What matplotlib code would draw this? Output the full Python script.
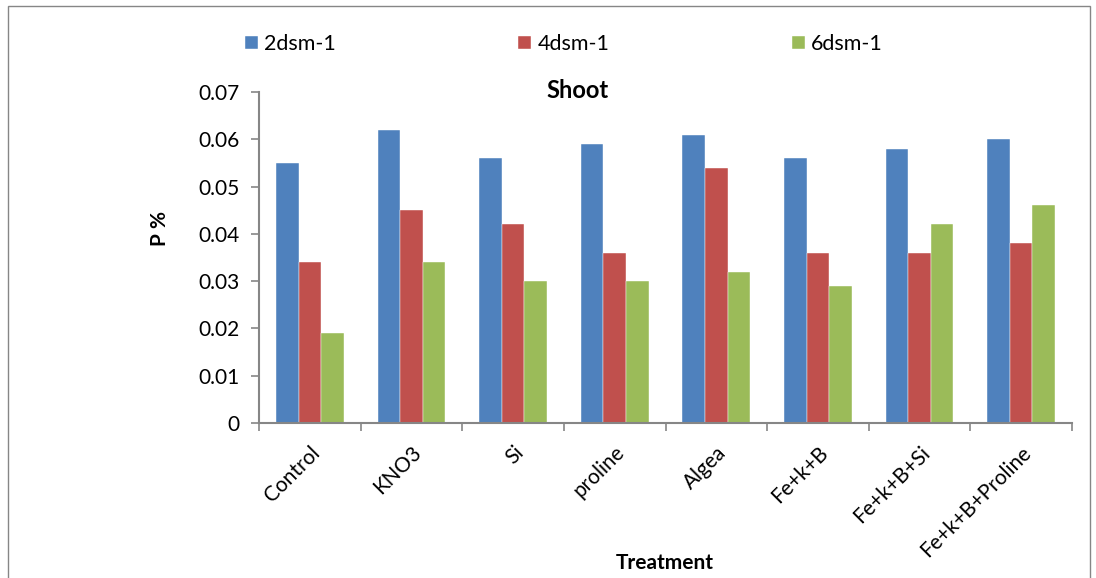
import matplotlib.pyplot as plt
import matplotlib.patches as mpatches
import numpy as np

plt.rcParams['font.family'] = ['Lato', 'DejaVu Sans']

treatments = ['Control', 'KNO3', 'Si', 'proline', 'Algea', 'Fe+k+B', 'Fe+k+B+Si', 'Fe+k+B+Proline']
dsm2 = [0.055, 0.062, 0.056, 0.059, 0.061, 0.056, 0.058, 0.060]
dsm4 = [0.034, 0.045, 0.042, 0.036, 0.054, 0.036, 0.036, 0.038]
dsm6 = [0.019, 0.034, 0.030, 0.030, 0.032, 0.029, 0.042, 0.046]
series_names = ['2dsm-1', '4dsm-1', '6dsm-1']
colors = ['#4F81BD', '#C0504D', '#9BBB59']

fig = plt.figure(figsize=(10.96, 5.78), dpi=100)
ax = fig.add_axes([259/1096, 1 - 423/578, (1072 - 259)/1096, (423 - 92)/578])

# outer chart border
fig.patches.append(mpatches.Rectangle((8/1096, -0.05), (1090 - 8)/1096, (1.05 - 6/578),
                                      transform=fig.transFigure, fill=False,
                                      edgecolor='#868686', lw=1))

x = np.arange(len(treatments)) + 0.5
w = 0.222
handles = []
for i, (vals, c) in enumerate(zip([dsm2, dsm4, dsm6], colors)):
    b = ax.bar(x + (i - 1) * w, vals, width=w, color=c, edgecolor='white', linewidth=0.3)
    handles.append(b)

ax.set_xlim(0, len(treatments))
ax.set_ylim(0, 0.07)
ax.set_yticks(np.arange(0, 0.071, 0.01))
ax.set_yticklabels(['0'] + [f'{v:.2f}' for v in np.arange(0.01, 0.071, 0.01)])
ax.set_xticks(x)
ax.set_xticklabels(treatments, rotation=45, ha='right', va='top', rotation_mode='anchor')
ax.set_xticks(np.arange(len(treatments) + 1), minor=True)
ax.tick_params(axis='x', which='major', length=0, pad=14, labelsize=15)
ax.tick_params(axis='x', which='minor', length=6, color='#868686', width=1.2)
ax.tick_params(axis='y', length=6, color='#868686', width=1.2, labelsize=15, pad=8)

for s in ['top', 'right']:
    ax.spines[s].set_visible(False)
for s in ['left', 'bottom']:
    ax.spines[s].set_color('#868686')
    ax.spines[s].set_linewidth(1.5)

fig.text(578/1096, 1 - 91/578, 'Shoot', fontweight='bold', fontsize=17,
         ha='center', va='center')
fig.text(160/1096, 1 - 228/578, 'P %', rotation=90, fontweight='bold', fontsize=15,
         ha='center', va='center')
fig.text(665/1096, 1 - 563/578, 'Treatment', fontweight='bold', fontsize=15,
         ha='center', va='center')

fig.legend(handles, series_names, loc='center left', bbox_to_anchor=(245/1096, 1 - 44/578),
           ncol=3, frameon=False, fontsize=15.5, handlelength=0.6, handleheight=0.6,
           handletextpad=0.3, columnspacing=8.46, borderpad=0, borderaxespad=0)

fig.savefig('out.png', dpi=100)
